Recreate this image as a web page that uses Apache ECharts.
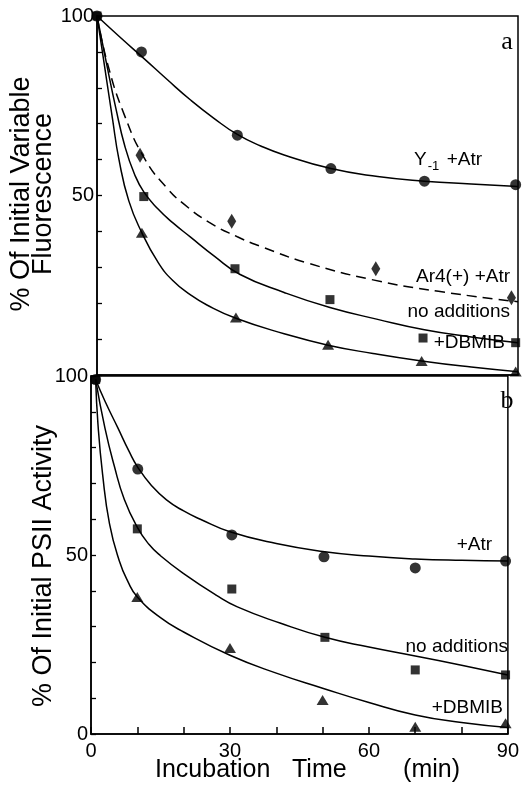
<!DOCTYPE html>
<html><head><meta charset="utf-8">
<script src="https://cdn.jsdelivr.net/npm/echarts@6/dist/echarts.min.js"></script>
<style>html,body{margin:0;padding:0;background:#fff}#c{width:522px;height:791px}</style>
</head><body><div id="c"></div>
<script>
const FONT = 'Liberation Sans';

// ---- Panel a : % of initial variable fluorescence ----
const a_y1Atr_pts   = [[0,100],[9.5,90],[30,66.8],[50,57.5],[70,54],[89.5,53]];
const a_y1Atr_curve = [[0,100],[5,94],[10,88.2],[15,82.3],[20,76.6],[25,71.5],[30,67],[35,63.8],[40,61.3],[50,57.5],[60,55.3],[70,54],[80,53.2],[90,52.5]];

const a_ar4Atr_pts   = [[9.2,61.2],[28.8,42.8],[59.6,29.6],[88.6,21.5]];
const a_ar4Atr_curve = [[0,100],[2.2,87],[5.8,72.6],[10.3,60],[15,52],[18.4,47.8],[24,42.5],[30,38.5],[35,35.8],[45,31.2],[59,26.5],[73,23.3],[90,20.4]];

const a_noAdd_pts   = [[0,100],[10,49.7],[29.5,29.6],[49.8,21],[69.7,10.3],[89.5,9]];
const a_noAdd_curve = [[0,100],[2,87],[4,74.5],[6,63.5],[8,56],[10,51],[13,46.3],[16.3,42.3],[20,38.4],[25,33.2],[30.6,28],[40,23],[49.8,18.8],[60,15.5],[70,12.6],[80,10.6],[90,9]];

const a_dbmib_pts   = [[9.6,39.6],[29.7,16],[49.4,8.4],[69.4,3.9],[89.5,1]];
const a_dbmib_curve = [[0,100],[1.5,87],[3.3,71.5],[4.7,60],[6.8,48.5],[9.6,39.6],[13,31.5],[16.2,26.3],[20,22.3],[23.5,19.5],[29.7,15.8],[40,11.5],[49.4,8.3],[59,6],[69.4,3.9],[80,2.2],[90,0.9]];

// ---- Panel b : % of initial PSII activity ----
const b_atr_pts   = [[1,99],[10.1,74],[30.4,55.6],[50.3,49.5],[70,46.4],[89.5,48.3]];
const b_atr_curve = [[1,99],[3,93],[5.8,85.5],[8.2,79],[10.1,74.5],[13,69.5],[16.3,65.4],[20,62.3],[23.6,60],[30,56.5],[40,53.2],[50,51],[60,49.7],[70,48.9],[80,48.5],[90,48.3]];

const b_noAdd_pts   = [[1,99],[10,57.3],[30.4,40.5],[50.5,27],[70,17.9],[89.5,16.5]];
const b_noAdd_curve = [[1,99],[3,85.5],[5,75],[7.2,65.5],[10.1,57.5],[12.5,53],[15,49.8],[20,44.8],[27,38.8],[31.6,35.5],[40.8,31],[50.5,27],[60,24.3],[70,21.8],[80,19.2],[90,16.5]];

const b_dbmib_pts   = [[10,38.3],[30,24],[50,9.5],[70,2],[89.5,3]];
const b_dbmib_curve = [[1,99],[1.5,86.6],[2.5,72.6],[4,58.7],[6.1,48.4],[8,42.5],[10,38.3],[15,32.5],[20,28.5],[30,22],[40,17],[50,12.8],[60,8.8],[70,5.3],[80,3.2],[90,1.8]];

// tick labels
const xTickLabels  = [0,30,60,90];
const yLabelsA     = [100,50];
const yLabelsB     = [100,50,0];

const chart = echarts.init(document.getElementById('c'), null, {renderer:'canvas'});

function curve(data, gi, dashed){
  return {type:'line', xAxisIndex:gi, yAxisIndex:gi, data:data, showSymbol:false, symbol:'none',
    smooth:0.5, silent:true, z:2,
    lineStyle:{color:'#000', width:1.5, type: dashed ? [10,6] : 'solid'}};
}
function pts(data, gi, symbol, size){
  return {type:'scatter', xAxisIndex:gi, yAxisIndex:gi, data:data, symbol:symbol, symbolSize:size,
    itemStyle:{color:'#000'}, silent:true, z:3, clip:false};
}
const axisLineStyle = {show:true, lineStyle:{color:'#000', width:1.5}};

const option = {
  animation:false,
  backgroundColor:'#fff',
  grid:[
    {left:97, top:16, width:421, height:359, show:true, borderColor:'#000', borderWidth:1.5, backgroundColor:'transparent'},
    {left:91, top:376, width:424, height:358, show:true, borderColor:'#000', borderWidth:1.5, backgroundColor:'transparent'}
  ],
  xAxis:[
    {gridIndex:0, type:'value', min:0, max:90, interval:10, axisLine:axisLineStyle,
      axisTick:{show:false}, axisLabel:{show:false}, splitLine:{show:false}},
    {gridIndex:1, type:'value', min:0, max:90, interval:10, axisLine:axisLineStyle,
      axisTick:{show:true, inside:true, length:7, lineStyle:{color:'#000', width:1.5}},
      axisLabel:{show:true, margin:7, color:'#000', fontFamily:FONT, fontSize:20,
        formatter:v => xTickLabels.includes(v) ? String(v) : ''},
      splitLine:{show:false}}
  ],
  yAxis:[
    {gridIndex:0, type:'value', min:0, max:100, interval:10, axisLine:axisLineStyle,
      axisTick:{show:true, inside:true, length:5, lineStyle:{color:'#000', width:1.3}},
      axisLabel:{show:true, margin:3, color:'#000', fontFamily:FONT, fontSize:20,
        formatter:v => yLabelsA.includes(v) ? String(v) : ''},
      splitLine:{show:false}},
    {gridIndex:1, type:'value', min:0, max:100, interval:10, axisLine:axisLineStyle,
      axisTick:{show:true, inside:true, length:5, lineStyle:{color:'#000', width:1.3}},
      axisLabel:{show:true, margin:3, color:'#000', fontFamily:FONT, fontSize:20,
        formatter:v => yLabelsB.includes(v) ? String(v) : ''},
      splitLine:{show:false}}
  ],
  series:[
    curve(a_y1Atr_curve,0,false), pts(a_y1Atr_pts,0,'circle',11),
    curve(a_ar4Atr_curve,0,true), pts(a_ar4Atr_pts,0,'diamond',[9,15]),
    curve(a_noAdd_curve,0,false), pts(a_noAdd_pts,0,'rect',9),
    curve(a_dbmib_curve,0,false), pts(a_dbmib_pts,0,'triangle',[12,10]),
    curve(b_atr_curve,1,false), pts(b_atr_pts,1,'circle',11),
    curve(b_noAdd_curve,1,false), pts(b_noAdd_pts,1,'rect',9),
    curve(b_dbmib_curve,1,false), pts(b_dbmib_pts,1,'triangle',[12,10])
  ],
  graphic:[
    {type:'text', x:507, y:42, style:{text:'a', fontFamily:'Liberation Serif', fontSize:26, fill:'#000', align:'center', verticalAlign:'middle'}},
    {type:'text', x:507, y:401, style:{text:'b', fontFamily:'Liberation Serif', fontSize:26, fill:'#000', align:'center', verticalAlign:'middle'}},
    {type:'text', x:482, y:160, style:{text:'{m|Y}{s|-1}{m| +Atr}', align:'right', verticalAlign:'middle', fill:'#000',
      rich:{m:{fontFamily:FONT, fontSize:19, fill:'#000'}, s:{fontFamily:FONT, fontSize:13, fill:'#000', padding:[12,2,0,1]}}}},
    {type:'text', x:510, y:277, style:{text:'Ar4(+) +Atr', fontFamily:FONT, fontSize:19, fill:'#000', align:'right', verticalAlign:'middle'}},
    {type:'text', x:510, y:312, style:{text:'no additions', fontFamily:FONT, fontSize:19, fill:'#000', align:'right', verticalAlign:'middle'}},
    {type:'text', x:505, y:343, style:{text:'+DBMIB', fontFamily:FONT, fontSize:19, fill:'#000', align:'right', verticalAlign:'middle'}},
    {type:'text', x:492, y:545, style:{text:'+Atr', fontFamily:FONT, fontSize:19, fill:'#000', align:'right', verticalAlign:'middle'}},
    {type:'text', x:508, y:647, style:{text:'no additions', fontFamily:FONT, fontSize:19, fill:'#000', align:'right', verticalAlign:'middle'}},
    {type:'text', x:503, y:708, style:{text:'+DBMIB', fontFamily:FONT, fontSize:19, fill:'#000', align:'right', verticalAlign:'middle'}},
    {type:'text', x:22, y:194, rotation:Math.PI/2, style:{text:'% Of Initial Variable', fontFamily:FONT, fontSize:27, fill:'#000', align:'center', verticalAlign:'middle'}},
    {type:'text', x:44, y:194, rotation:Math.PI/2, style:{text:'Fluorescence', fontFamily:FONT, fontSize:27, fill:'#000', align:'center', verticalAlign:'middle'}},
    {type:'text', x:44, y:566, rotation:Math.PI/2, style:{text:'% Of Initial PSII Activity', fontFamily:FONT, fontSize:27, fill:'#000', align:'center', verticalAlign:'middle'}},
    {type:'text', x:155, y:770, style:{text:'Incubation', fontFamily:FONT, fontSize:25, fill:'#000', align:'left', verticalAlign:'middle'}},
    {type:'text', x:292, y:770, style:{text:'Time', fontFamily:FONT, fontSize:25, fill:'#000', align:'left', verticalAlign:'middle'}},
    {type:'text', x:460, y:770, style:{text:'(min)', fontFamily:FONT, fontSize:25, fill:'#000', align:'right', verticalAlign:'middle'}}
  ]
};
chart.setOption(option);
</script>
</body></html>
